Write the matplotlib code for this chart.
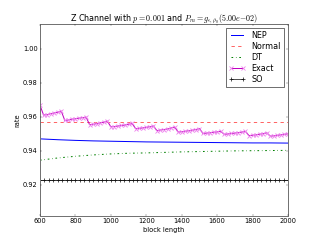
import numpy as np
from matplotlib import pyplot as plt

plt.style.use("classic")

# block lengths
n_coarse = np.arange(600, 2001, 100)
n_exact = np.arange(600, 2001, 20)
n_so = np.arange(600, 2001, 25)

nep = [0.9471, 0.9466, 0.9462, 0.9459, 0.9457, 0.9455, 0.9453, 0.9452,
       0.9451, 0.9450, 0.9449, 0.9448, 0.9447, 0.9447, 0.9446]
normal = [0.9570] * len(n_coarse)
dt = [0.9345, 0.9358, 0.9368, 0.9376, 0.9382, 0.9386, 0.9388, 0.9391,
      0.9394, 0.9396, 0.9398, 0.9400, 0.9401, 0.9402, 0.9403]
exact = [
    0.9670, 0.9612, 0.9614, 0.9620, 0.9624, 0.9628, 0.9635,
    0.9580, 0.9582, 0.9587, 0.9590, 0.9593, 0.9596, 0.9600,
    0.9555, 0.9557, 0.9561, 0.9566, 0.9569, 0.9576,
    0.9542, 0.9544, 0.9547, 0.9550, 0.9553, 0.9557, 0.9562,
    0.9531, 0.9533, 0.9536, 0.9539, 0.9543, 0.9547,
    0.9520, 0.9523, 0.9526, 0.9530, 0.9535, 0.9541,
    0.9511, 0.9513, 0.9516, 0.9519, 0.9522, 0.9526, 0.9532,
    0.9503, 0.9505, 0.9507, 0.9510, 0.9512, 0.9516,
    0.9498, 0.9500, 0.9503, 0.9505, 0.9508, 0.9511, 0.9515,
    0.9490, 0.9492, 0.9495, 0.9498, 0.9502, 0.9507,
    0.9487, 0.9489, 0.9492, 0.9495, 0.9498, 0.9501,
]
so = [0.9225] * len(n_so)

fig = plt.figure(figsize=(8, 6), dpi=40)
ax = fig.add_subplot(111)

ax.plot(n_coarse, nep, "b-", lw=1.8, label="NEP")
ax.plot(n_coarse, normal, "r--", lw=1.8, alpha=0.6, label="Normal")
ax.plot(n_coarse, dt, "g-.", lw=1.8, label="DT")
ax.plot(n_exact, exact, "m-", lw=1.8, marker="x", markersize=6, mew=1.5,
        markeredgecolor="violet", label="Exact")
ax.plot(n_so, so, "k-", lw=1.5, marker="+", markersize=7, mew=1.5,
        alpha=0.8, label="SO")

ax.set_xlim(600, 2000)
ax.set_ylim(0.9015, 1.015)
ax.set_yticks([0.92, 0.94, 0.96, 0.98, 1.00])
ax.set_xlabel("block length")
ax.set_ylabel("rate")
ax.set_title(r"Z Channel with $p = 0.001$ and $P_m = g_{\epsilon,\rho_0}(5.00e{-}02)$")
for spine in ax.spines.values():
    spine.set_linewidth(1.8)
    spine.set_color("0.45")
ax.legend(loc="upper right", labelspacing=0.25)

fig.savefig("out.png", dpi=40)
